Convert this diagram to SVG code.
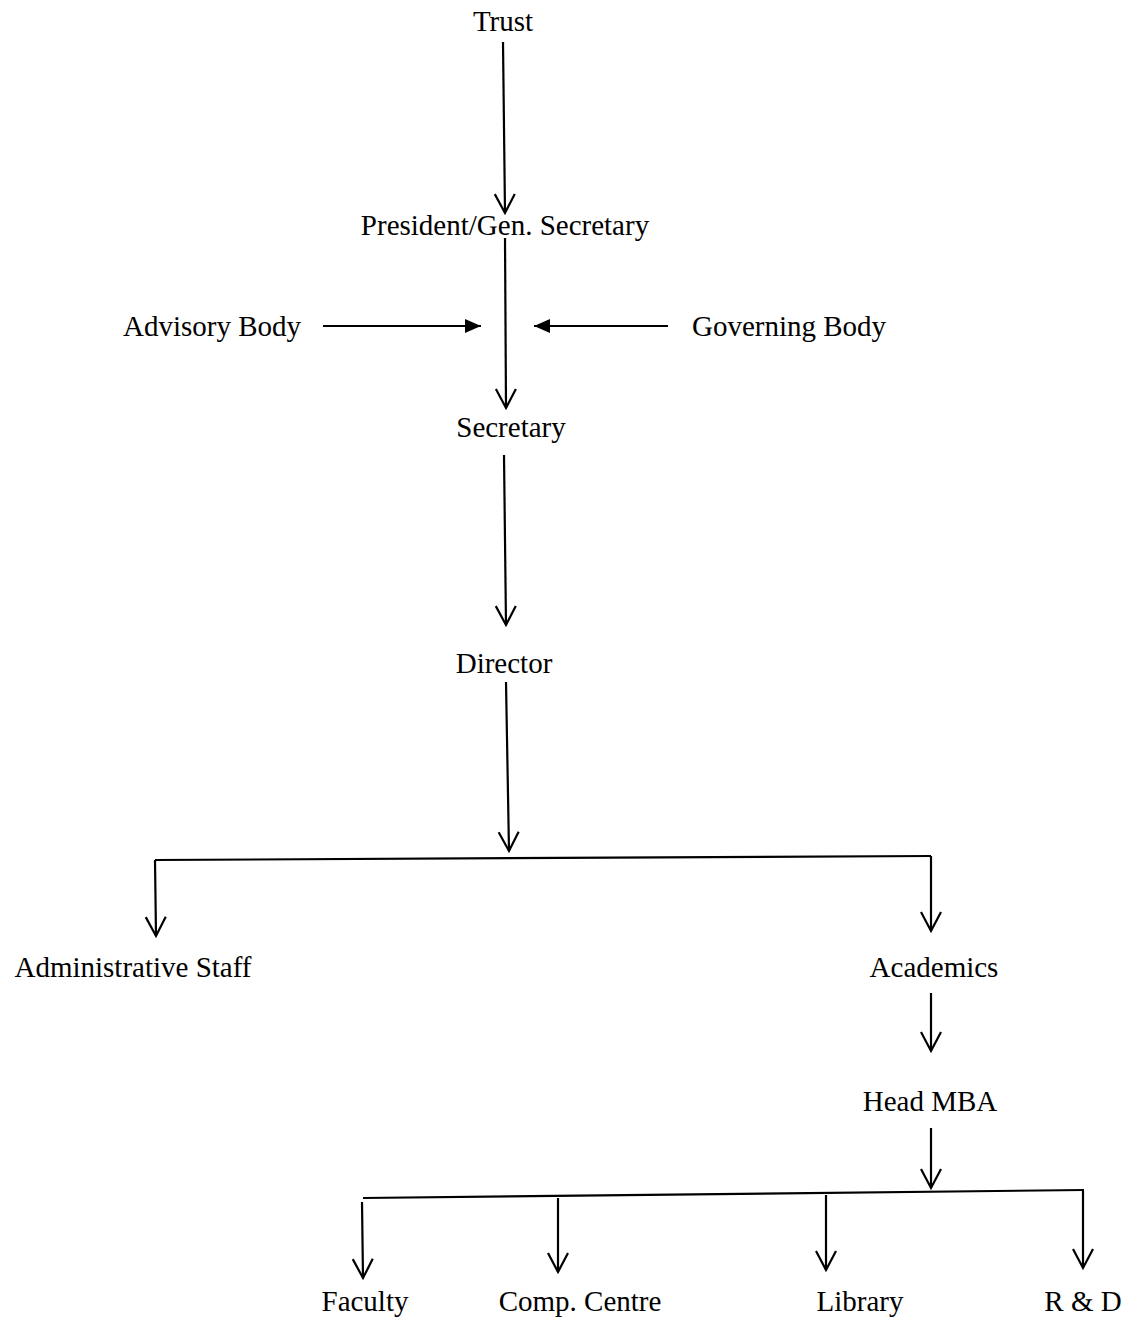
<svg xmlns="http://www.w3.org/2000/svg" width="1136" height="1324" viewBox="0 0 1136 1324">
<style>
  text { font-family: "Liberation Serif", "Times New Roman", serif; font-size: 29px; fill: #000; text-anchor: middle; }
  .c line { stroke: #000; stroke-width: 2.2; fill: none; }
  .open { marker-end: url(#vopen); }
  .fill { marker-end: url(#vfill); }
</style>
<defs>
  <marker id="vopen" markerUnits="userSpaceOnUse" markerWidth="24" markerHeight="24" refX="0" refY="0" orient="auto" viewBox="-21 -12 24 24" overflow="visible">
    <path d="M-19,-10 L0,0 L-19,10" fill="none" stroke="#000" stroke-width="2.2"/>
  </marker>
  <marker id="vfill" markerUnits="userSpaceOnUse" markerWidth="20" markerHeight="20" refX="0" refY="0" orient="auto" viewBox="-18 -10 20 20" overflow="visible">
    <path d="M-16,-7 L0,0 L-16,7 Z" fill="#000"/>
  </marker>
</defs>
<rect width="1136" height="1324" fill="#fff"/>
<g id="connectors" class="c">
  <line class="open" x1="503" y1="42" x2="505" y2="213"/>
  <line class="open" x1="505" y1="238" x2="506" y2="408"/>
  <line class="fill" x1="323" y1="326" x2="481" y2="326"/>
  <line class="fill" x1="668" y1="326" x2="534" y2="326"/>
  <line class="open" x1="504" y1="455" x2="506" y2="625"/>
  <line class="open" x1="506" y1="682" x2="509" y2="851"/>
  <line x1="155" y1="860" x2="931" y2="856"/>
  <line class="open" x1="155" y1="860" x2="156" y2="936"/>
  <line class="open" x1="931" y1="856" x2="931" y2="931"/>
  <line class="open" x1="931" y1="993" x2="931" y2="1051"/>
  <line class="open" x1="931" y1="1128" x2="931" y2="1188"/>
  <line x1="363" y1="1198" x2="1084" y2="1190"/>
  <line class="open" x1="362" y1="1202" x2="363" y2="1278"/>
  <line class="open" x1="558" y1="1198" x2="558" y2="1272"/>
  <line class="open" x1="826" y1="1195" x2="826" y2="1270"/>
  <line class="open" x1="1083" y1="1191" x2="1083" y2="1268"/>
</g>
<g id="trust"><text x="503" y="31">Trust</text></g>
<g id="president"><text x="505" y="235">President/Gen. Secretary</text></g>
<g id="advisory"><text x="212" y="336">Advisory Body</text></g>
<g id="governing"><text x="789" y="336">Governing Body</text></g>
<g id="secretary"><text x="511" y="437">Secretary</text></g>
<g id="director"><text x="504" y="673">Director</text></g>
<g id="admin"><text x="133" y="977">Administrative Staff</text></g>
<g id="academics"><text x="934" y="977">Academics</text></g>
<g id="headmba"><text x="930" y="1111">Head MBA</text></g>
<g id="faculty"><text x="365" y="1311">Faculty</text></g>
<g id="compcentre"><text x="580" y="1311">Comp. Centre</text></g>
<g id="library"><text x="860" y="1311">Library</text></g>
<g id="rnd"><text x="1083" y="1311">R &amp; D</text></g>
</svg>
